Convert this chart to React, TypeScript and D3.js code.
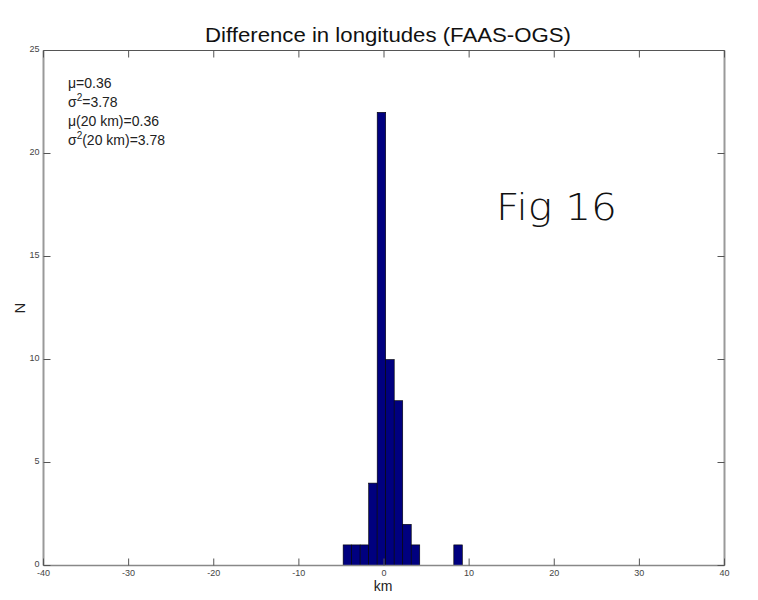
import React from "react";
import * as d3 from "d3";

const binEdgesLeft = [-4.8, -3.8, -2.8, -1.8, -0.8, 0.2, 1.2, 2.2, 3.2, 8.2];
const binCounts = [1, 1, 1, 4, 22, 10, 8, 2, 1, 1];
const binWidth = 1.0;
const xTicks = [-40, -30, -20, -10, 0, 10, 20, 30, 40];
const yTicks = [0, 5, 10, 15, 20, 25];
const statsLines = [
  { sym: "μ", sup: "", rest: "=0.36" },
  { sym: "σ", sup: "2", rest: "=3.78" },
  { sym: "μ", sup: "", rest: "(20 km)=0.36" },
  { sym: "σ", sup: "2", rest: "(20 km)=3.78" },
];

export default function App() {
  const W = 758, H = 600;
  const left = 43.5, right = 724.5, top = 50.5, bottom = 565.5;
  const x = d3.scaleLinear().domain([-40, 40]).range([left, right]);
  const y = d3.scaleLinear().domain([0, 25]).range([bottom, top]);
  const tl = 7;
  const font = "Arial, 'Liberation Sans', sans-serif";
  return (
    <svg width={W} height={H} style={{ position: "absolute", left: 0, top: 0, background: "#fff" }}>
      <rect x={0} y={0} width={W} height={H} fill="#fff" />
      {binCounts.map((c, i) => (
        <rect
          key={i}
          x={x(binEdgesLeft[i])}
          y={y(c)}
          width={x(binEdgesLeft[i] + binWidth) - x(binEdgesLeft[i])}
          height={y(0) - y(c)}
          fill="#00007F"
          stroke="#000"
          strokeWidth={0.6}
        />
      ))}
      <line x1={left} x2={right} y1={top} y2={top} stroke="#555" strokeWidth={1} />
      <line x1={left} x2={left} y1={top} y2={bottom} stroke="#999" strokeWidth={2} />
      <line x1={right} x2={right} y1={top} y2={bottom} stroke="#999" strokeWidth={2} />
      <line x1={left} x2={right} y1={bottom} y2={bottom} stroke="#888" strokeWidth={1.5} />
      {xTicks.map((t) => (
        <g key={"x" + t}>
          <line x1={x(t)} x2={x(t)} y1={bottom} y2={bottom - tl} stroke="#555" />
          <line x1={x(t)} x2={x(t)} y1={top} y2={top + tl} stroke="#555" />
          <text x={x(t)} y={bottom + 10} fontSize={9} fill="#444" textAnchor="middle" fontFamily={font}>
            {t}
          </text>
        </g>
      ))}
      {yTicks.map((t) => (
        <g key={"y" + t}>
          <line x1={left} x2={left + tl} y1={y(t)} y2={y(t)} stroke="#555" />
          <line x1={right} x2={right - tl} y1={y(t)} y2={y(t)} stroke="#555" />
          <text x={left - 4} y={y(t) + 1} fontSize={9} fill="#444" textAnchor="end" fontFamily={font}>
            {t}
          </text>
        </g>
      ))}
      <text x={388} y={42} fontSize={20.5} textAnchor="middle" fontFamily={font} fill="#111" textLength={366} lengthAdjust="spacingAndGlyphs">
        Difference in longitudes (FAAS-OGS)
      </text>
      <text x={383} y={591} fontSize={14} textAnchor="middle" fontFamily={font} fill="#222">
        km
      </text>
      <text transform="translate(25,308) rotate(-90)" fontSize={15} textAnchor="middle" fontFamily={font} fill="#222">
        N
      </text>
      {statsLines.map((l, i) => (
        <text key={i} x={68} y={88 + i * 19} fontSize={14} fontFamily={font} fill="#222">
          {l.sym}
          {l.sup ? (
            <tspan dy={-6} fontSize={10}>
              {l.sup}
            </tspan>
          ) : null}
          <tspan dy={l.sup ? 6 : 0}>{l.rest}</tspan>
        </text>
      ))}
      <text x={496} y={220} fontSize={38} fontFamily="'DejaVu Sans', sans-serif" fontWeight={200} fill="#111" textLength={121} lengthAdjust="spacingAndGlyphs">
        Fig 16
      </text>
    </svg>
  );
}
